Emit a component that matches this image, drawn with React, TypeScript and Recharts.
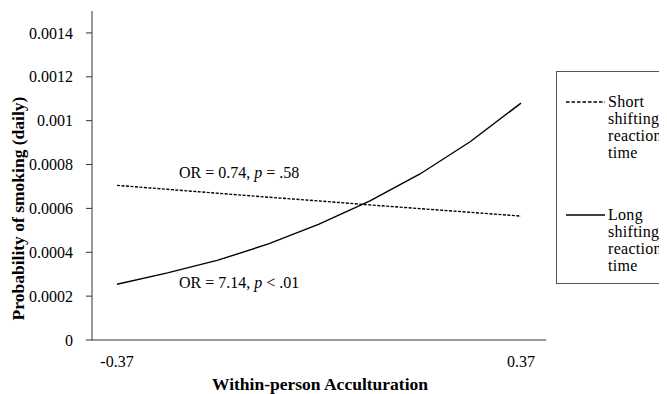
import { LineChart, Line, XAxis, YAxis, ReferenceDot } from 'recharts';

const xCategories = ['-0.37', '-0.28', '-0.19', '-0.09', '0.00', '0.09', '0.19', '0.28', '0.37'];
const shortRT = [0.000705, 0.000687, 0.000669, 0.000651, 0.000634, 0.000616, 0.000599, 0.000582, 0.000565];
const longRT = [0.000254, 0.000306, 0.000364, 0.000438, 0.000528, 0.000633, 0.000757, 0.000905, 0.00108];
const yTicks = [0, 0.0002, 0.0004, 0.0006, 0.0008, 0.001, 0.0012, 0.0014];

const data = xCategories.map((x, i) => ({ x, short: shortRT[i], long: longRT[i] }));

const FONT = '"Liberation Serif", "Times New Roman", serif';
const W = 659;
const H = 386;

function Note({ viewBox, or, sign, p, dx }: any) {
  return (
    <text x={viewBox.x + dx} y={viewBox.y} fontFamily={FONT} fontSize={16} fill="#000">
      {`OR = ${or}, `}
      <tspan fontStyle="italic">p</tspan>
      {` ${sign} ${p}`}
    </text>
  );
}

function YTitle({ viewBox }: any) {
  const x = viewBox.x + 10;
  const y = viewBox.y + viewBox.height / 2 + 33;
  return (
    <text
      x={x}
      y={y}
      transform={`rotate(-90, ${x}, ${y})`}
      textAnchor="middle"
      dominantBaseline="central"
      fontFamily={FONT}
      fontSize={17.5}
      fontWeight="bold"
      fill="#000"
    >
      Probability of smoking (daily)
    </text>
  );
}

function XTitle({ viewBox }: any) {
  return (
    <text
      x={viewBox.x + viewBox.width / 2 + 1}
      y={viewBox.y + 50}
      textAnchor="middle"
      fontFamily={FONT}
      fontSize={17.5}
      fontWeight="bold"
      fill="#000"
    >
      Within-person Acculturation
    </text>
  );
}

function LegendItem({ top, dashed, lines }: { top: number; dashed: boolean; lines: string[] }) {
  return (
    <>
      <svg style={{ position: 'absolute', left: 558, top: top + 8, width: 40, height: 4 }}>
        <line
          x1={0}
          x2={39}
          y1={1}
          y2={1}
          stroke="#000"
          strokeWidth={1.3}
          strokeDasharray={dashed ? '3.5 2' : undefined}
        />
      </svg>
      <div
        style={{
          position: 'absolute',
          left: 600,
          top,
          fontFamily: FONT,
          fontSize: 16,
          lineHeight: '17px',
          letterSpacing: 0.3,
          color: '#000',
        }}
      >
        {lines.map((l) => (
          <div key={l}>{l}</div>
        ))}
      </div>
    </>
  );
}

export default function App() {
  return (
    <div
      style={{
        position: 'relative',
        width: W,
        height: H,
        overflow: 'hidden',
        background: '#fff',
        fontFamily: FONT,
      }}
    >
      <LineChart width={W} height={H} data={data} margin={{ top: 3, right: 121, bottom: 0, left: 0 }}>
        <XAxis
          dataKey="x"
          type="category"
          height={54}
          interval={0}
          padding={{ left: 25, right: 25 }}
          tickLine={false}
          tickSize={0}
          tickMargin={16}
          stroke="#333"
          fontFamily={FONT}
          fontSize={16}
          tick={{ fontFamily: FONT, fontSize: 16, fill: '#000' }}
          tickFormatter={(v) => (v === xCategories[0] || v === xCategories[xCategories.length - 1] ? v : '')}
          label={<XTitle />}
        />
        <XAxis xAxisId="top" dataKey="x" orientation="top" height={0} tick={false} tickLine={false} stroke="#8a8a8a" />
        <YAxis
          width={84}
          domain={[0, 0.0015]}
          ticks={yTicks}
          tickSize={6}
          tickMargin={13}
          stroke="#333"
          fontFamily={FONT}
          fontSize={16}
          tick={{ fontFamily: FONT, fontSize: 16, fill: '#000' }}
          tickFormatter={(v) => String(v)}
          label={<YTitle />}
        />
        <YAxis yAxisId="right" orientation="right" width={0} tick={false} tickLine={false} stroke="#8a8a8a" />
        <Line
          dataKey="short"
          stroke="#000"
          strokeWidth={1.4}
          strokeDasharray="3 1.5"
          dot={false}
          isAnimationActive={false}
        />
        <Line dataKey="long" stroke="#000" strokeWidth={1.4} dot={false} isAnimationActive={false} />
        <ReferenceDot
          x={xCategories[2]}
          y={0.00074}
          r={0}
          stroke="none"
          label={<Note or="0.74" sign="=" p=".58" dx={-39} />}
        />
        <ReferenceDot
          x={xCategories[2]}
          y={0.000237}
          r={0}
          stroke="none"
          label={<Note or="7.14" sign="<" p=".01" dx={-39} />}
        />
      </LineChart>
      <div
        style={{
          position: 'absolute',
          left: 548,
          top: 63,
          width: 130,
          height: 213,
          border: '1px solid #555',
          boxSizing: 'border-box',
        }}
      />
      <LegendItem top={85} dashed lines={['Short', 'shifting', 'reaction', 'time']} />
      <LegendItem top={198} dashed={false} lines={['Long', 'shifting', 'reaction', 'time']} />
    </div>
  );
}
